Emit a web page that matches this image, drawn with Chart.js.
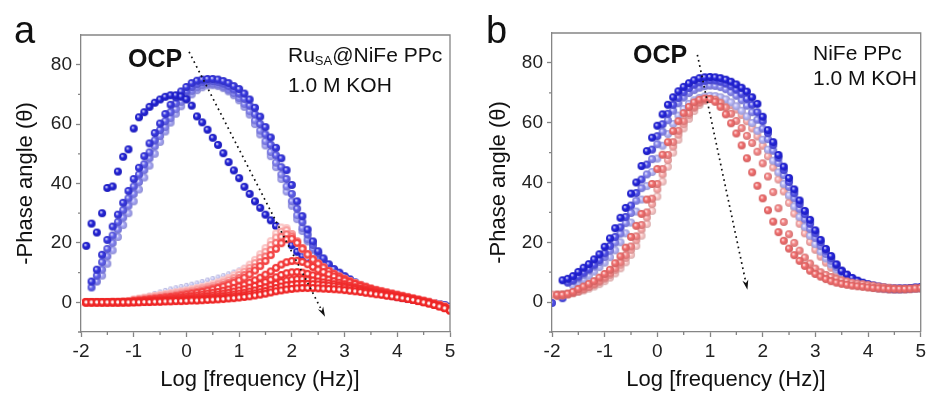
<!DOCTYPE html>
<html lang="en">
<head>
<meta charset="UTF-8">
<title>Phase angle vs frequency</title>
<script src="https://cdn.jsdelivr.net/npm/chart.js"></script>
<style>
  body { margin: 0; background: #fff; }
  #wrap { position: relative; width: 929px; height: 401px; overflow: hidden; }
  canvas { position: absolute; top: 0; }
  #chartA { left: 0; }
  #chartB { left: 465px; }
</style>
</head>
<body>
<div id="wrap">
  <canvas id="chartA" width="465" height="401"></canvas>
  <canvas id="chartB" width="464" height="401"></canvas>
</div>
<script>
// log frequency grid, -2.0 ... 5.0 (10 points per decade)
const logFreq = [
  -2.0, -1.9, -1.8, -1.7, -1.6, -1.5, -1.4, -1.3, -1.2, -1.1,
  -1.0, -0.9, -0.8, -0.7, -0.6, -0.5, -0.4, -0.3, -0.2, -0.1,
  0.0, 0.1, 0.2, 0.3, 0.4, 0.5, 0.6, 0.7, 0.8, 0.9,
  1.0, 1.1, 1.2, 1.3, 1.4, 1.5, 1.6, 1.7, 1.8, 1.9,
  2.0, 2.1, 2.2, 2.3, 2.4, 2.5, 2.6, 2.7, 2.8, 2.9,
  3.0, 3.1, 3.2, 3.3, 3.4, 3.5, 3.6, 3.7, 3.8, 3.9,
  4.0, 4.1, 4.2, 4.3, 4.4, 4.5, 4.6, 4.7, 4.8, 4.9,
  5.0
];
const xTicks = [-2, -1, 0, 1, 2, 3, 4, 5];
const xMinor = [-1.5, -0.5, 0.5, 1.5, 2.5, 3.5, 4.5];
const yTicks = [0, 20, 40, 60, 80];
const yMinor = [-10, 10, 30, 50, 70];

// ---- panel a : RuSA@NiFe PPc ----
const aOcp = [
  null, 19, 26.5, 23.5, 30, 38.5, 39, 44, 49, 51.5,
  58.5, 62.3, 64, 65.8, 67.2, 68.3, 69.2, 69.7, 69.7, 69.3,
  68.4, 66.2, 62.6, 60.6, 58.1, 55.4, 53, 50.2, 47.2, 44.4,
  41.8, 38.9, 36.5, 34, 31.8, 29.5, 27.6, 25.7, 23.6, 21.4,
  19.2, 17, 15.5, 14.2, 13.2, 12.2, 11.2, 10.2, 9.3, 8.4,
  7.6, 6.9, 6.2, 5.5, 4.9, 4.3, 3.7, 3.2, 2.7, 2.3,
  1.9, 1.5, 1.2, 0.9, 0.6, 0.3, 0, -0.3, -0.7, -1.1,
  -1.6
];
const aBlue2 = [
  null, null, 7, 11, 16, 21, 25.5, 29.5, 33.5, 37.5,
  41.5, 45.3, 49.2, 53.5, 57, 60.2, 63.4, 66.5, 69, 71,
  72.5, 73.8, 74.6, 75, 75.2, 75.2, 75, 74.5, 73.8, 72.8,
  71.8, 70.3, 68.3, 65.5, 62.5, 59, 55.5, 52, 48.5, 44.5,
  39.5, 34, 29, 24.5, 20.5, 17.2, 14.8, 12.8, 11.2, 10,
  8.8, 7.7, 6.7, 5.8, 5, 4.3, 3.7, 3.2, 2.7, 2.3,
  1.9, 1.5, 1.2, 0.9, 0.6, 0.3, 0, -0.3, -0.7, -1.1,
  -1.6
];
const aBlue3 = [
  null, null, 5, 9, 13.5, 18, 22.5, 27, 31, 35,
  39, 43, 46.5, 50.5, 54.5, 58, 61, 64, 67, 69.3,
  71, 72.5, 73.5, 74.2, 74.5, 74.5, 74.2, 73.6, 72.7, 71.6,
  70.2, 68.5, 66.2, 63.3, 60, 56.5, 53, 49.5, 45.5, 41.5,
  36.5, 31.5, 27, 22.8, 19.3, 16.4, 14.2, 12.4, 10.9, 9.7,
  8.6, 7.6, 6.6, 5.8, 5, 4.3, 3.7, 3.2, 2.7, 2.3,
  1.9, 1.5, 1.2, 0.9, 0.6, 0.3, 0, -0.3, -0.7, -1.1,
  -1.5
];
const aBlue4 = [
  null, null, null, 7, 11, 15.5, 20, 24.5, 28.5, 32.5,
  36.5, 40.5, 44.5, 48.5, 52.5, 56, 59, 62, 65, 67.5,
  69.5, 71.2, 72.4, 73.2, 73.6, 73.6, 73.3, 72.6, 71.6, 70.4,
  68.8, 66.8, 64.3, 61.2, 57.8, 54.2, 50.6, 47, 43, 39,
  34, 29.3, 25, 21.2, 18, 15.4, 13.4, 11.8, 10.4, 9.3,
  8.3, 7.4, 6.5, 5.7, 5, 4.3, 3.7, 3.2, 2.7, 2.3,
  1.9, 1.5, 1.2, 0.9, 0.6, 0.3, 0, -0.3, -0.7, -1.1,
  -1.5
];
const aBlue5 = [
  null, null, null, null, 9, 13, 17.5, 22, 26, 30,
  34, 38, 42, 46, 50, 54, 57.5, 60.5, 63.5, 66,
  68.2, 70, 71.4, 72.4, 73, 73.1, 72.8, 72.1, 71, 69.7,
  68, 65.8, 63.2, 60, 56.5, 52.8, 49.2, 45.5, 41.5, 37.3,
  32.5, 28, 24, 20.5, 17.5, 15, 13.1, 11.5, 10.2, 9.1,
  8.1, 7.2, 6.4, 5.6, 4.9, 4.3, 3.7, 3.2, 2.7, 2.3,
  1.9, 1.5, 1.2, 0.9, 0.6, 0.3, 0, -0.3, -0.7, -1.1,
  -1.5
];
const aFaint = [
  null, null, null, null, null, null, null, null, null, null,
  0.6, 1.2, 1.8, 2.4, 3, 3.5, 4, 4.5, 4.9, 5.3,
  5.7, 6.1, 6.5, 7, 7.5, 8, 8.5, 9, 9.6, 10.2,
  10.9, 11.8, 12.8, 14, 15.5, 17.2, 19.2, 21.5, 23.5, 24,
  22.5, 20, 17.6, 15.6, 14, 12.6, 11.4, 10.3, 9.4, 8.5,
  7.7, 7, 6.3, 5.7, 5.1, 4.6, 4.1, 3.7, 3.3, 2.9,
  2.5, 2.1, 1.7, 1.3, 0.9, 0.5, 0.1, -0.3, -0.8, -1.3,
  -1.8
];
const aRed1 = [
  0, 0.2, 0.2, 0.2, 0.2, 0.2, 0.3, 0.3, 0.4, 0.5,
  1.0, 1.3, 1.6, 1.9, 2.2, 2.5, 2.8, 3.1, 3.4, 3.7,
  4.0, 4.4, 4.8, 5.2, 5.6, 6.1, 6.7, 7.4, 8.2, 9.1,
  10.1, 11.3, 12.7, 14.3, 16.2, 18.3, 20.6, 23.2, 25.2, 25,
  23, 20.3, 17.8, 15.8, 14.2, 12.8, 11.6, 10.5, 9.5, 8.6,
  7.8, 7.1, 6.5, 5.9, 5.3, 4.8, 4.3, 3.9, 3.5, 3.1,
  2.7, 2.3, 1.9, 1.5, 1.1, 0.7, 0.3, -0.2, -0.7, -1.3,
  -1.9
];
const aRed2 = [
  null, 0.1, 0.1, 0.1, 0.1, 0.1, 0.2, 0.2, 0.3, 0.4,
  0.8, 1.1, 1.3, 1.6, 1.9, 2.1, 2.4, 2.7, 3, 3.3,
  3.6, 3.9, 4.3, 4.7, 5.1, 5.5, 6.1, 6.7, 7.4, 8.2,
  9.2, 10.3, 11.6, 13.2, 15, 17, 19.3, 21.8, 23.8, 24.3,
  23, 20.6, 18.2, 16.1, 14.5, 13, 11.8, 10.6, 9.6, 8.7,
  7.9, 7.1, 6.5, 5.9, 5.3, 4.7, 4.2, 3.8, 3.4, 3,
  2.6, 2.2, 1.8, 1.4, 1, 0.6, 0.2, -0.3, -0.8, -1.4,
  -2
];
const aRed3 = [
  null, 0, 0, 0, 0, 0, 0.1, 0.1, 0.2, 0.3,
  0.6, 0.8, 1, 1.2, 1.4, 1.6, 1.9, 2.1, 2.4, 2.7,
  3, 3.3, 3.6, 4, 4.4, 4.8, 5.3, 5.9, 6.5, 7.3,
  8.2, 9.2, 10.4, 11.8, 13.5, 15.4, 17.6, 20, 22.1, 22.9,
  22.2, 20.4, 18.3, 16.3, 14.6, 13.1, 11.8, 10.6, 9.6, 8.7,
  7.9, 7.1, 6.4, 5.8, 5.2, 4.6, 4.1, 3.7, 3.3, 2.9,
  2.5, 2.1, 1.7, 1.3, 0.9, 0.5, 0.1, -0.4, -0.9, -1.5,
  -2.2
];
const aRed4 = [
  null, 0, 0, 0, 0, 0, 0, 0, 0.1, 0.2,
  0.4, 0.6, 0.8, 1, 1.2, 1.4, 1.6, 1.8, 2, 2.3,
  2.6, 2.9, 3.2, 3.5, 3.9, 4.3, 4.8, 5.3, 5.9, 6.6,
  7.4, 8.3, 9.4, 10.7, 12.2, 13.9, 15.9, 18, 19.9, 21.2,
  21.4, 20, 18, 16.1, 14.4, 13, 11.7, 10.5, 9.5, 8.6,
  7.8, 7, 6.3, 5.7, 5.1, 4.5, 4, 3.6, 3.2, 2.8,
  2.4, 2, 1.6, 1.2, 0.8, 0.4, 0, -0.5, -1, -1.6,
  -2.3
];
const aRed5 = [
  null, 0, 0, 0, 0, 0, 0, 0, 0, 0.1,
  0.3, 0.4, 0.5, 0.7, 0.8, 1, 1.1, 1.3, 1.5, 1.7,
  1.9, 2.1, 2.3, 2.6, 2.9, 3.2, 3.5, 3.9, 4.3, 4.8,
  5.3, 5.9, 6.6, 7.4, 8.3, 9.3, 10.4, 11.6, 12.7, 13.5,
  13.9, 14, 13.6, 12.8, 11.9, 11, 10.2, 9.4, 8.7, 8,
  7.3, 6.7, 6.1, 5.5, 4.9, 4.4, 3.9, 3.5, 3.1, 2.7,
  2.3, 1.9, 1.5, 1.1, 0.7, 0.3, -0.1, -0.6, -1.1, -1.7,
  -2.4
];
const aRed6 = [
  null, 0, 0, 0, 0, 0, 0, 0, 0, 0,
  0.2, 0.3, 0.4, 0.5, 0.6, 0.7, 0.8, 0.9, 1.1, 1.2,
  1.4, 1.5, 1.7, 1.9, 2.1, 2.3, 2.6, 2.9, 3.2, 3.6,
  4, 4.4, 4.9, 5.5, 6.1, 6.8, 7.6, 8.4, 9.2, 9.8,
  10.1, 10.2, 10, 9.6, 9.1, 8.6, 8.1, 7.6, 7.1, 6.6,
  6.1, 5.6, 5.1, 4.7, 4.3, 3.9, 3.5, 3.1, 2.8, 2.4,
  2.1, 1.7, 1.4, 1, 0.6, 0.2, -0.2, -0.7, -1.2, -1.8,
  -2.5
];
const aRed7 = [
  null, 0, 0, 0, 0, 0, 0, 0, 0, 0,
  0.1, 0.2, 0.3, 0.3, 0.4, 0.5, 0.6, 0.7, 0.8, 0.9,
  1, 1.1, 1.2, 1.4, 1.5, 1.7, 1.9, 2.1, 2.3, 2.6,
  2.9, 3.2, 3.6, 4, 4.5, 5, 5.6, 6.2, 6.8, 7.3,
  7.6, 7.8, 7.8, 7.6, 7.3, 7, 6.7, 6.4, 6.1, 5.8,
  5.5, 5.1, 4.7, 4.4, 4, 3.6, 3.3, 2.9, 2.6, 2.3,
  2, 1.6, 1.3, 0.9, 0.5, 0.1, -0.3, -0.8, -1.3, -1.9,
  -2.6
];
const aRed8 = [
  null, 0, 0, 0, 0, 0, 0, 0, 0, 0,
  0, 0.1, 0.2, 0.2, 0.3, 0.3, 0.4, 0.5, 0.5, 0.6,
  0.7, 0.8, 0.9, 1, 1.1, 1.2, 1.4, 1.5, 1.7, 1.9,
  2.1, 2.4, 2.7, 3, 3.4, 3.8, 4.3, 4.8, 5.3, 5.7,
  5.9, 6.1, 6.2, 6.2, 6.1, 6, 5.8, 5.6, 5.4, 5.2,
  4.9, 4.6, 4.3, 4, 3.7, 3.4, 3.1, 2.8, 2.5, 2.2,
  1.9, 1.6, 1.2, 0.9, 0.5, 0.1, -0.3, -0.8, -1.3, -1.9,
  -2.7
];
const aRed9 = [
  null, 0, 0, 0, 0, 0, 0, 0, 0, 0,
  0, 0, 0.1, 0.1, 0.2, 0.2, 0.3, 0.3, 0.4, 0.4,
  0.5, 0.6, 0.6, 0.7, 0.8, 0.9, 1, 1.1, 1.3, 1.4,
  1.6, 1.8, 2, 2.3, 2.6, 2.9, 3.3, 3.7, 4, 4.3,
  4.5, 4.7, 4.8, 4.8, 4.8, 4.7, 4.6, 4.5, 4.4, 4.3,
  4.1, 3.9, 3.7, 3.5, 3.2, 3, 2.7, 2.5, 2.2, 2,
  1.7, 1.4, 1.1, 0.8, 0.4, 0, -0.4, -0.9, -1.4, -2,
  -2.8
];
const aArrow = [[0.05, 84.3], [2.63, -4.9]];

// ---- panel b : NiFe PPc ----
const bOcp = [
  null, null, 7.3, 7.8, 8.7, 10.1, 11.5, 12.7, 14.3, 16,
  18.5, 21.3, 24.7, 28.2, 31.5, 36.3, 40, 45.5, 50.5, 55,
  59, 62.8, 66, 68.5, 70.5, 72, 73.2, 74.2, 74.9, 75.2,
  75.3, 75.2, 74.9, 74.4, 73.7, 72.8, 71.7, 70.4, 68.5, 66.3,
  62, 57.5, 53.5, 49.2, 45.3, 41.5, 37.7, 34, 30.5, 27.5,
  24, 20.8, 17.8, 15.4, 12.6, 10.4, 9.2, 8.1, 7.2, 6.5,
  6, 5.6, 5.2, 4.9, 4.7, 4.6, 4.6, 4.6, 4.7, 4.9,
  5
];
const bBlue2 = [
  -0.3, null, 1.3, 6.5, 7.3, 8.5, 9.8, 11, 12.5, 14,
  16.3, 18.8, 21.8, 25, 28.5, 32.3, 36.5, 41, 46, 51,
  55.5, 59.5, 63, 66, 68.3, 70.2, 71.6, 72.7, 73.5, 74,
  74.2, 74.1, 73.7, 73.1, 72.2, 71.1, 69.7, 68, 66, 63.5,
  60.5, 56.5, 52.5, 48.3, 44.2, 40.2, 36.4, 32.8, 29.4, 26.2,
  23, 20, 17.2, 14.7, 12.5, 10.6, 9.1, 7.9, 7, 6.3,
  5.8, 5.4, 5.1, 4.8, 4.6, 4.5, 4.5, 4.5, 4.6, 4.8,
  4.9
];
const bBlue3 = [
  null, null, null, null, 7, 7.9, 9.2, 10.6, 11.9, 13.4,
  15.1, 17.2, 19.9, 22.9, 26.4, 29.8, 33.9, 38.1, 42.7, 47.8,
  52.8, 57, 60.8, 64, 66.5, 68.4, 69.9, 70.9, 71.7, 72.2,
  72.4, 72.3, 71.9, 71.2, 70.2, 69, 67.5, 65.7, 63.5, 61,
  58, 54.5, 50.6, 46.5, 42.4, 38.5, 34.7, 31.1, 27.7, 24.5,
  21.5, 18.7, 16.1, 13.8, 11.8, 10.1, 8.7, 7.6, 6.8, 6.1,
  5.6, 5.2, 4.9, 4.7, 4.5, 4.4, 4.4, 4.4, 4.5, 4.7,
  4.8
];
const bBlue4 = [
  null, null, null, null, 5.5, 6.4, 7.5, 8.8, 10.2, 11.7,
  13.2, 15, 17.3, 20, 23, 26.6, 30.3, 34.3, 38.8, 43.5,
  48, 52.3, 56.2, 59.6, 62.4, 64.6, 66.3, 67.5, 68.3, 68.8,
  69, 68.9, 68.5, 67.8, 66.8, 65.5, 64, 62.1, 59.9, 57.3,
  54.3, 51, 47.3, 43.4, 39.5, 35.7, 32, 28.5, 25.2, 22.2,
  19.4, 16.9, 14.6, 12.6, 10.9, 9.4, 8.2, 7.2, 6.4, 5.8,
  5.3, 4.9, 4.6, 4.4, 4.3, 4.2, 4.2, 4.3, 4.4, 4.5,
  4.6
];
const bRed1 = [
  null, 2.4, 2.4, 2.8, 3.4, 4.4, 5.2, 6.1, 7, 8.2,
  9.4, 10.8, 13, 15.3, 18.2, 21.8, 25.5, 29.5, 34.3, 39.5,
  44.5, 49.3, 53.5, 57.2, 60.5, 63.2, 65.3, 66.8, 67.7, 68.1,
  67.9, 67, 65.3, 62.8, 59.8, 56.4, 52.4, 48.1, 43.4, 38.9,
  34.7, 30.7, 26.9, 23.4, 20.5, 17.9, 15.7, 13.8, 12.1, 10.5,
  9.4, 8.5, 7.7, 7, 6.5, 6.1, 5.8, 5.5, 5.3, 5.1,
  4.9, 4.7, 4.6, 4.5, 4.4, 4.4, 4.4, 4.4, 4.5, 4.6,
  4.7
];
const bRed2 = [
  null, 2, 2.2, 2.5, 3, 3.6, 4.3, 5.1, 6, 7,
  8.2, 9.6, 11.3, 13.3, 15.7, 18.6, 22, 25.8, 30, 34.6,
  39.5, 44.5, 49.2, 53.5, 57.3, 60.5, 63.2, 65.3, 66.8, 67.7,
  68, 67.7, 66.7, 65.1, 63, 60.6, 58.2, 55.6, 53.2, 50.3,
  46.4, 42, 36.8, 31.4, 26.8, 22.7, 19.8, 17.2, 14.9, 12.9,
  11.2, 10, 9.1, 8.4, 7.8, 7.3, 6.9, 6.5, 6.2, 6,
  5.7, 5.5, 5.2, 5, 4.8, 4.6, 4.5, 4.5, 4.5, 4.6,
  4.7
];
const bRed3 = [
  2.5, 2.5, 2.6, 2.8, 3.2, 3.7, 4.3, 5, 5.8, 6.7,
  7.8, 9.1, 10.7, 12.5, 14.8, 17.5, 20.7, 24.3, 28.3, 32.8,
  37.7, 42.7, 47.5, 52, 56, 59.5, 62.5, 64.9, 66.7, 67.9,
  68.5, 68.5, 68, 67.1, 65.9, 64.4, 62.6, 60.5, 58.1, 55.4,
  52.3, 48.8, 45, 41, 37, 33.2, 29.6, 26.2, 23, 20.1,
  17.5, 15.2, 13.2, 11.5, 10, 8.8, 7.8, 6.9, 6.2, 5.6,
  5.2, 4.8, 4.5, 4.3, 4.2, 4.1, 4.1, 4.2, 4.3, 4.4,
  4.5
];
const bRed4 = [
  null, 2.6, 2.7, 2.8, 3, 3.4, 3.9, 4.5, 5.2, 6,
  7, 8.2, 9.6, 11.3, 13.3, 15.8, 18.8, 22.2, 26.1, 30.5,
  35.3, 40.3, 45.3, 50, 54.3, 58.1, 61.3, 63.9, 65.9, 67.3,
  68.1, 68.4, 68.2, 67.6, 66.6, 65.3, 63.7, 61.8, 59.6, 57.1,
  54.2, 50.8, 47.1, 43.2, 39.2, 35.3, 31.6, 28.1, 24.8, 21.8,
  19.1, 16.6, 14.4, 12.5, 10.8, 9.4, 8.2, 7.2, 6.4, 5.8,
  5.3, 4.9, 4.6, 4.4, 4.2, 4.1, 4.1, 4.2, 4.3, 4.4,
  4.5
];
const bArrow = [[0.76, 82.7], [1.71, 4.1]];

const family = 'Arial, "Liberation Sans", Helvetica, sans-serif';

// small shaded ball used as point marker
function ball(rgb, r, ring) {
  const c = document.createElement('canvas');
  const s = Math.ceil(r * 2) + 2;
  c.width = c.height = s;
  const g = c.getContext('2d');
  const m = s / 2;
  const dark = rgb.map(v => Math.round(v * 0.86));
  let grad;
  if (ring) {
    grad = g.createRadialGradient(m - 0.3, m - 0.3, 0, m, m, r);
    grad.addColorStop(0, 'rgba(255,255,255,1)');
    grad.addColorStop(0.28, 'rgba(255,240,240,1)');
    grad.addColorStop(0.55, `rgb(${rgb.join(',')})`);
    grad.addColorStop(1, `rgb(${rgb.join(',')})`);
  } else {
    grad = g.createRadialGradient(m - r * 0.3, m - r * 0.3, 0, m, m, r);
    grad.addColorStop(0, 'rgba(255,255,255,0.95)');
    grad.addColorStop(0.45, `rgb(${rgb.join(',')})`);
    grad.addColorStop(1, `rgb(${dark.join(',')})`);
  }
  g.fillStyle = grad;
  g.beginPath();
  g.arc(m, m, r, 0, Math.PI * 2);
  g.fill();
  return c;
}

function series(values, rgb, opts = {}) {
  const r = opts.r || 4;
  return {
    data: logFreq.map((x, i) => ({ x: x, y: values[i] })).filter(p => p.y !== null),
    pointStyle: ball(rgb, r, opts.ring),
    pointRadius: r,
    showLine: false
  };
}

// draws frame, minor ticks, dotted arrow and texts
const decor = {
  id: 'decor',
  afterDatasetsDraw(chart, args, o) {
    const { ctx, chartArea: ca, scales: { x, y } } = chart;
    ctx.save();
    // top and right frame lines
    ctx.strokeStyle = '#858585';
    ctx.lineWidth = 1.3;
    ctx.beginPath();
    ctx.moveTo(ca.left, ca.top);
    ctx.lineTo(ca.right, ca.top);
    ctx.lineTo(ca.right, ca.bottom);
    ctx.stroke();
    // minor ticks
    ctx.beginPath();
    xMinor.forEach(v => {
      const px = x.getPixelForValue(v);
      ctx.moveTo(px, ca.bottom);
      ctx.lineTo(px, ca.bottom + 3);
    });
    yMinor.forEach(v => {
      const py = y.getPixelForValue(v);
      ctx.moveTo(ca.left, py);
      ctx.lineTo(ca.left - 3, py);
    });
    ctx.stroke();

    // dotted arrow
    const x0 = x.getPixelForValue(o.arrow[0][0]), y0 = y.getPixelForValue(o.arrow[0][1]);
    const x1 = x.getPixelForValue(o.arrow[1][0]), y1 = y.getPixelForValue(o.arrow[1][1]);
    const ang = Math.atan2(y1 - y0, x1 - x0);
    const head = 10;
    const xe = x1 - Math.cos(ang) * head, ye = y1 - Math.sin(ang) * head;
    ctx.strokeStyle = '#111';
    ctx.lineWidth = 1.7;
    ctx.setLineDash([1.7, 3.6]);
    ctx.beginPath();
    ctx.moveTo(x0, y0);
    ctx.lineTo(xe, ye);
    ctx.stroke();
    ctx.setLineDash([]);
    ctx.fillStyle = '#111';
    ctx.beginPath();
    ctx.moveTo(x1, y1);
    ctx.lineTo(xe + Math.cos(ang + Math.PI / 2) * 3, ye + Math.sin(ang + Math.PI / 2) * 3);
    ctx.lineTo(xe + Math.cos(ang) * 3, ye + Math.sin(ang) * 3);
    ctx.lineTo(xe + Math.cos(ang - Math.PI / 2) * 3, ye + Math.sin(ang - Math.PI / 2) * 3);
    ctx.closePath();
    ctx.fill();

    // texts
    ctx.textBaseline = 'alphabetic';
    ctx.textAlign = 'left';
    o.notes.forEach(n => {
      let cx = n.x;
      n.parts.forEach(p => {
        ctx.font = (p.bold ? 'bold ' : '') + p.size + 'px ' + family;
        ctx.fillStyle = '#111';
        ctx.fillText(p.t, cx, n.y + (p.dy || 0));
        cx += ctx.measureText(p.t).width;
      });
    });
    ctx.textAlign = 'center';
    ctx.font = '22px ' + family;
    ctx.fillText('Log [frequency (Hz)]', o.xTitle[0], o.xTitle[1]);
    ctx.restore();
  }
};

function makeChart(id, datasets, cfg) {
  return new Chart(document.getElementById(id), {
    type: 'scatter',
    data: { datasets: datasets },
    plugins: [decor],
    options: {
      responsive: false,
      animation: false,
      events: [],
      layout: { padding: { left: 0, right: cfg.padRight, top: cfg.padTop, bottom: 0 } },
      plugins: {
        legend: { display: false },
        tooltip: { enabled: false },
        decor: { arrow: cfg.arrow, notes: cfg.notes, xTitle: cfg.xTitle }
      },
      scales: {
        x: {
          type: 'linear',
          min: -2,
          max: 5,
          afterBuildTicks: s => { s.ticks = xTicks.map(v => ({ value: v })); },
          afterFit: s => { s.height = 69; },
          grid: { drawOnChartArea: false, tickLength: 5, tickColor: '#858585', tickWidth: 1.3 },
          border: { color: '#858585', width: 1.3 },
          ticks: { color: '#222', font: { size: 19, family: family }, padding: 3, maxRotation: 0 }
        },
        y: {
          type: 'linear',
          min: -10,
          max: 90,
          afterBuildTicks: s => { s.ticks = yTicks.map(v => ({ value: v })); },
          afterFit: s => { s.width = cfg.yWidth; },
          grid: { drawOnChartArea: false, tickLength: 5, tickColor: '#858585', tickWidth: 1.3 },
          border: { color: '#858585', width: 1.3 },
          ticks: { color: '#222', font: { size: 19, family: family }, padding: 4 },
          title: {
            display: true,
            text: '-Phase angle (\u03b8)',
            color: '#111',
            font: { size: 22, family: family },
            padding: { top: cfg.yTitlePad, bottom: 0 }
          }
        }
      }
    }
  });
}

makeChart('chartA', [
  series(aRed9, [238, 38, 38], { ring: true }),
  series(aRed8, [239, 42, 42], { ring: true }),
  series(aRed7, [240, 46, 46], { ring: true }),
  series(aRed6, [241, 50, 50], { ring: true }),
  series(aRed5, [242, 55, 55], { ring: true }),
  series(aRed4, [243, 68, 68], { ring: true }),
  series(aRed3, [246, 115, 115], { ring: true }),
  series(aRed2, [248, 160, 160], { ring: true }),
  series(aRed1, [251, 198, 198], { ring: true }),
  series(aFaint, [200, 200, 248], { r: 2.4 }),
  series(aOcp, [35, 35, 215]),
  series(aBlue2, [55, 55, 225]),
  series(aBlue3, [95, 95, 235]),
  series(aBlue4, [130, 130, 240]),
  series(aBlue5, [165, 165, 245])
], {
  padRight: 15, padTop: 35, yWidth: 81, yTitlePad: 13,
  arrow: aArrow,
  xTitle: [260, 386],
  notes: [
    { x: 14, y: 43, parts: [{ t: 'a', size: 38 }] },
    { x: 128, y: 67, parts: [{ t: 'OCP', size: 25, bold: true }] },
    { x: 288, y: 62, parts: [{ t: 'Ru', size: 21 }, { t: 'SA', size: 13, dy: 3 }, { t: '@NiFe PPc', size: 21 }] },
    { x: 288, y: 92, parts: [{ t: '1.0 M KOH', size: 21 }] }
  ]
});

makeChart('chartB', [
  series(bRed1, [242, 110, 110]),
  series(bRed2, [245, 135, 135]),
  series(bOcp, [35, 35, 220]),
  series(bBlue2, [80, 80, 232]),
  series(bBlue3, [135, 135, 240]),
  series(bBlue4, [180, 180, 246]),
  series(bRed3, [249, 168, 168]),
  series(bRed4, [251, 200, 200])
], {
  padRight: 8, padTop: 33, yWidth: 87, yTitlePad: 21,
  arrow: bArrow,
  xTitle: [261, 386],
  notes: [
    { x: 21, y: 43, parts: [{ t: 'b', size: 38 }] },
    { x: 168, y: 63, parts: [{ t: 'OCP', size: 25, bold: true }] },
    { x: 348, y: 60, parts: [{ t: 'NiFe PPc', size: 21 }] },
    { x: 348, y: 85, parts: [{ t: '1.0 M KOH', size: 21 }] }
  ]
});
</script>
</body>
</html>
